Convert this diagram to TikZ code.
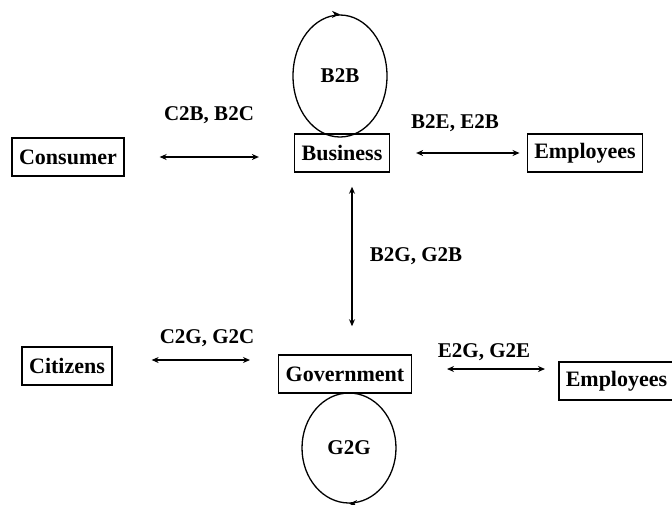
\documentclass[tikz,border=0pt]{standalone}
\usepackage{fontspec}
\setmainfont{Liberation Serif}
\usepackage{tikz}
\usetikzlibrary{shapes.geometric}
\usetikzlibrary{arrows.meta}
\tikzset{
    box/.style = {rectangle, draw=black, line width=1.5pt, inner xsep=7pt, minimum height=38pt, font=\bfseries\fontsize{22}{26}\selectfont},
    loopnode/.style = {ellipse, draw=black, line width=1.3pt, inner sep=0pt, font=\bfseries\fontsize{21}{25}\selectfont},
    lbl/.style = {font=\bfseries\fontsize{21}{25}\selectfont},
}
\begin{document}
\begin{tikzpicture}[
	x=1pt, y=-1pt,
	line width=1.5pt
]
\tikzset{
    link/.style = {{Stealth[length=7pt,width=6pt]}-{Stealth[length=7pt,width=6pt]}},
    looptip/.style = {-{Stealth[length=8pt,width=7pt]}, line width=1.3pt},
}
\useasboundingbox (0,0) rectangle (672,504);
\node[box] at (68,157) (consumer) {Consumer};
\node[box] at (342,153) (business) {Business};
\node[box] at (585,153) (employees) {Employees};
\node[box] at (67,366) (citizens) {Citizens};
\node[box] at (345,374) (government) {Government};
\node[box, anchor=west] at (558,381) (employeesg) {Employees};
\node[loopnode, minimum width=94pt, minimum height=122pt] at (340,76) (b2b) {B2B};
\node[loopnode, minimum width=94pt, minimum height=110pt] at (349,448) (g2g) {G2G};
\node[lbl] at (209,115) (cb) {C2B, B2C};
\node[lbl] at (455,123) (be) {B2E, E2B};
\node[lbl] at (416,256) (bg) {B2G, G2B};
\node[lbl] at (207,338) (cg) {C2G, G2C};
\node[lbl] at (484,352) (eg) {E2G, G2E};
\draw[link, shorten <=35pt, shorten >=35pt] (consumer.east) -- (consumer.east -| business.west);
\draw[link, shorten <=26pt, shorten >=7pt] (business.east) -- (business.east -| employees.west);
\draw[link, shorten <=14pt, shorten >=28pt] ([xshift=10pt]business.south) -- ([xshift=10pt]business.south |- government.north);
\draw[link, shorten <=39pt, shorten >=28pt] ([yshift=6pt]citizens.east) -- ([yshift=6pt]citizens.east -| government.west);
\draw[link, shorten <=35pt, shorten >=13pt] ([yshift=5pt]government.east) -- ([yshift=5pt]government.east -| employeesg.west);
\draw[looptip] ([xshift=-4pt]b2b.north) -- (b2b.north);
\draw[looptip] ([xshift=4pt]g2g.south) -- (g2g.south);
\end{tikzpicture}
\end{document}
